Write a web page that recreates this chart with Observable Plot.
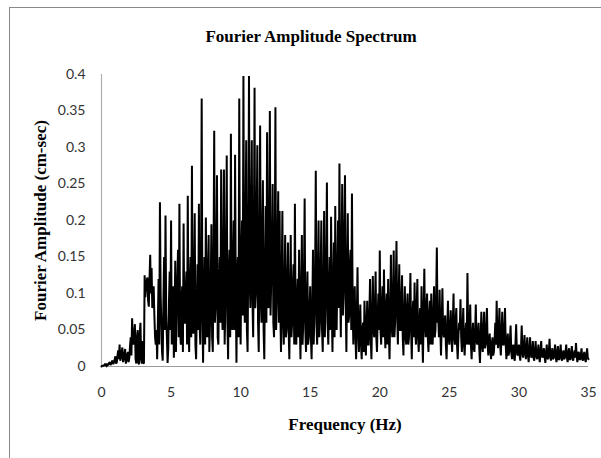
<!DOCTYPE html>
<html>
<head>
<meta charset="utf-8">
<script src="https://cdn.jsdelivr.net/npm/d3@7"></script>
<script src="https://cdn.jsdelivr.net/npm/@observablehq/plot@0.6"></script>
<style>
  body { margin: 0; background: #fff; }
  #wrap { position: relative; width: 601px; height: 458px; overflow: hidden; background: #fff; }
  #frame { position: absolute; left: 9px; top: 7px; width: 800px; height: 800px; border: 1.5px solid #8a8a8a; box-sizing: border-box; }
  #title { position: absolute; left: 0; width: 622px; top: 27px; text-align: center;
           font: bold 17px "Liberation Serif", "DejaVu Serif", serif; color: #000; }
  #chart { position: absolute; left: 0; top: 0; }
  g[aria-label="x-axis label"] text, g[aria-label="y-axis label"] text {
    font-family: "Liberation Serif", "DejaVu Serif", serif; font-weight: bold; font-size: 17px; fill: #000;
  }
</style>
</head>
<body>
<div id="wrap">
  <div id="frame"></div>
  <div id="title">Fourier Amplitude Spectrum</div>
  <div id="chart"></div>
</div>
<script>
// Frequency sampling step (Hz) of the spectrum
const freqStep = 0.05;

// Fourier amplitude (cm-sec), 0.05 Hz apart
const amp00to05 = [
  0.000,0.001, 0.001,0.001, 0.002,0.003, 0.002,0.001, 0.004,0.002, 0.003,0.005, 0.006,0.002, 0.004,0.007, 0.008,0.003, 0.006,0.010,
  0.014,0.004, 0.006,0.015, 0.022,0.010, 0.030,0.008, 0.012,0.020, 0.026,0.006, 0.010,0.018, 0.024,0.004, 0.008,0.016, 0.020,0.006,
  0.012,0.028, 0.040,0.015, 0.066,0.035, 0.030,0.045, 0.058,0.010, 0.004,0.040, 0.050,0.005, 0.003,0.045, 0.060,0.010, 0.004,0.035,
  0.005,0.004, 0.125,0.095, 0.110,0.118, 0.122,0.090, 0.082,0.120, 0.153,0.100, 0.135,0.080, 0.095,0.110, 0.070,0.040, 0.030,0.050,
  0.010,0.060, 0.120,0.030, 0.225,0.100, 0.060,0.020, 0.008,0.090, 0.150,0.050, 0.207,0.070, 0.040,0.005, 0.025,0.090, 0.130,0.050
];
const amp05to10 = [
  0.200,0.030, 0.070,0.110, 0.012,0.060, 0.145,0.020, 0.080,0.120, 0.160,0.040, 0.223,0.050, 0.030,0.090, 0.110,0.020, 0.196,0.060,
  0.060,0.100, 0.130,0.030, 0.234,0.070, 0.020,0.110, 0.150,0.040, 0.275,0.060, 0.045,0.120, 0.210,0.030, 0.010,0.080, 0.140,0.050,
  0.223,0.060, 0.030,0.120, 0.367,0.080, 0.005,0.090, 0.150,0.030, 0.204,0.070, 0.040,0.130, 0.180,0.020, 0.060,0.110, 0.195,0.040,
  0.020,0.140, 0.323,0.060, 0.080,0.150, 0.262,0.040, 0.030,0.120, 0.150,0.060, 0.270,0.090, 0.050,0.140, 0.270,0.030, 0.080,0.150,
  0.289,0.060, 0.010,0.130, 0.160,0.040, 0.319,0.080, 0.050,0.140, 0.200,0.050, 0.290,0.100, 0.005,0.120, 0.150,0.040, 0.367,0.080
];
const amp10to15 = [
  0.030,0.150, 0.200,0.070, 0.398,0.100, 0.060,0.180, 0.310,0.050, 0.020,0.160, 0.398,0.120, 0.080,0.200, 0.310,0.090, 0.040,0.170,
  0.382,0.080, 0.100,0.200, 0.303,0.060, 0.020,0.150, 0.330,0.090, 0.060,0.170, 0.255,0.050, 0.010,0.130, 0.220,0.060, 0.321,0.100,
  0.080,0.180, 0.350,0.070, 0.120,0.160, 0.250,0.060, 0.040,0.150, 0.355,0.050, 0.090,0.170, 0.240,0.060, 0.213,0.080, 0.020,0.120,
  0.213,0.060, 0.030,0.110, 0.180,0.040, 0.050,0.120, 0.170,0.050, 0.010,0.100, 0.180,0.040, 0.060,0.110, 0.140,0.030, 0.223,0.050,
  0.030,0.090, 0.120,0.040, 0.160,0.060, 0.010,0.100, 0.180,0.030, 0.060,0.120, 0.230,0.050, 0.020,0.090, 0.130,0.030, 0.040,0.080
];
const amp15to20 = [
  0.110,0.040, 0.010,0.080, 0.160,0.030, 0.070,0.120, 0.268,0.060, 0.030,0.110, 0.200,0.040, 0.060,0.130, 0.200,0.050, 0.020,0.100,
  0.213,0.040, 0.080,0.140, 0.252,0.060, 0.030,0.100, 0.150,0.050, 0.205,0.080, 0.020,0.110, 0.170,0.040, 0.220,0.070, 0.050,0.130,
  0.200,0.080, 0.278,0.110, 0.040,0.150, 0.250,0.070, 0.100,0.180, 0.262,0.090, 0.020,0.120, 0.210,0.060, 0.070,0.140, 0.160,0.050,
  0.237,0.080, 0.030,0.090, 0.110,0.040, 0.010,0.070, 0.136,0.050, 0.020,0.060, 0.085,0.030, 0.010,0.050, 0.060,0.020, 0.090,0.040,
  0.015,0.060, 0.090,0.030, 0.030,0.070, 0.120,0.040, 0.010,0.070, 0.124,0.050, 0.040,0.080, 0.130,0.040, 0.020,0.070, 0.100,0.050
];
const amp20to25 = [
  0.159,0.050, 0.030,0.080, 0.110,0.040, 0.133,0.060, 0.025,0.080, 0.100,0.030, 0.120,0.050, 0.010,0.070, 0.153,0.060, 0.040,0.090,
  0.159,0.040, 0.060,0.110, 0.172,0.070, 0.030,0.090, 0.140,0.050, 0.050,0.090, 0.125,0.040, 0.015,0.070, 0.110,0.040, 0.030,0.080,
  0.100,0.030, 0.040,0.080, 0.128,0.050, 0.010,0.070, 0.090,0.040, 0.115,0.050, 0.030,0.080, 0.120,0.040, 0.020,0.060, 0.080,0.030,
  0.110,0.050, 0.005,0.070, 0.134,0.060, 0.040,0.080, 0.100,0.040, 0.020,0.070, 0.090,0.030, 0.100,0.050, 0.030,0.070, 0.110,0.040,
  0.050,0.090, 0.163,0.060, 0.070,0.040, 0.105,0.050, 0.015,0.060, 0.107,0.050, 0.040,0.060, 0.070,0.030, 0.010,0.050, 0.090,0.040
];
const amp25to30 = [
  0.030,0.050, 0.077,0.040, 0.020,0.060, 0.100,0.040, 0.030,0.060, 0.080,0.030, 0.010,0.040, 0.060,0.050, 0.092,0.040, 0.020,0.050,
  0.080,0.030, 0.015,0.045, 0.060,0.030, 0.128,0.050, 0.030,0.055, 0.085,0.030, 0.010,0.040, 0.060,0.025, 0.020,0.045, 0.085,0.035,
  0.030,0.045, 0.060,0.025, 0.005,0.040, 0.075,0.030, 0.020,0.050, 0.075,0.025, 0.030,0.050, 0.080,0.030, 0.015,0.035, 0.045,0.020,
  0.010,0.030, 0.040,0.015, 0.020,0.035, 0.060,0.030, 0.090,0.040, 0.025,0.050, 0.080,0.030, 0.015,0.045, 0.075,0.030, 0.030,0.050,
  0.080,0.030, 0.010,0.030, 0.045,0.015, 0.020,0.035, 0.056,0.020, 0.010,0.025, 0.030,0.012, 0.008,0.030, 0.058,0.020, 0.015,0.025
];
const amp30to35 = [
  0.030,0.015, 0.008,0.025, 0.056,0.020, 0.012,0.025, 0.043,0.018, 0.010,0.025, 0.040,0.015, 0.006,0.022, 0.040,0.018, 0.012,0.020,
  0.035,0.012, 0.008,0.020, 0.035,0.015, 0.010,0.018, 0.030,0.012, 0.006,0.020, 0.035,0.015, 0.012,0.020, 0.025,0.012, 0.005,0.018,
  0.030,0.012, 0.010,0.020, 0.038,0.015, 0.008,0.018, 0.025,0.010, 0.012,0.020, 0.030,0.012, 0.006,0.018, 0.028,0.010, 0.010,0.020,
  0.030,0.012, 0.008,0.018, 0.022,0.010, 0.012,0.020, 0.030,0.012, 0.006,0.018, 0.025,0.010, 0.010,0.018, 0.028,0.012, 0.008,0.016,
  0.022,0.012, 0.032,0.015, 0.006,0.018, 0.020,0.010, 0.010,0.016, 0.025,0.010, 0.008,0.016, 0.020,0.010, 0.006,0.015, 0.025,0.012,
  0.010
];

const xTicks = [0, 5, 10, 15, 20, 25, 30, 35];
const yTicks = [0, 0.05, 0.1, 0.15, 0.2, 0.25, 0.3, 0.35, 0.4];

const amplitude = [].concat(amp00to05, amp05to10, amp10to15, amp15to20, amp20to25, amp25to30, amp30to35);
const spectrum = amplitude.map((a, i) => ({ f: +(i * freqStep).toFixed(2), a }));

const chart = Plot.plot({
  width: 601,
  height: 458,
  marginTop: 74,
  marginBottom: 92,
  marginLeft: 101,
  marginRight: 13,
  style: { fontFamily: "Lato, 'Open Sans', sans-serif", fontSize: "14px", color: "#333", background: "transparent", overflow: "visible" },
  x: { domain: [0, 35], ticks: xTicks, tickFormat: d => String(d), tickSize: 0, tickPadding: 21,
       label: "Frequency (Hz)", labelAnchor: "center", labelOffset: 63, labelArrow: "none" },
  y: { domain: [0, 0.4], ticks: yTicks, tickFormat: d => String(d), tickSize: 0, tickPadding: 16,
       label: "Fourier Amplitude (cm-sec)", labelAnchor: "center", labelOffset: 68, labelArrow: "none" },
  marks: [
    Plot.ruleY([0], { stroke: "#9a9a9a", strokeWidth: 1.2 }),
    Plot.ruleX([0], { stroke: "#b0b0b0", strokeWidth: 1.2 }),
    Plot.line(spectrum, { x: "f", y: "a", stroke: "#000", strokeWidth: 2.0, strokeLinejoin: "miter", strokeMiterlimit: 2 })
  ]
});
document.getElementById("chart").appendChild(chart);
</script>
</body>
</html>
